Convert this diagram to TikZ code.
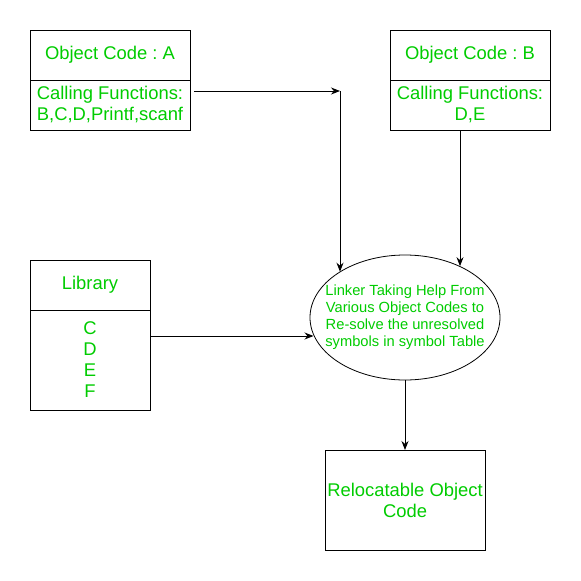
\documentclass[tikz,border=0pt]{standalone}
\usepackage{fontspec}
\setmainfont{Liberation Sans}
\usetikzlibrary{arrows.meta, positioning, calc, shapes.geometric}
\definecolor{CodeGreen}{RGB}{0, 204, 0}
\frenchspacing

\begin{document}
\begin{tikzpicture}[x=1pt, y=-1pt,
    cell/.style={draw, line width=1pt, minimum width=160pt, minimum height=50pt,
        inner sep=0pt, outer sep=0pt, text=CodeGreen, align=center,
        font=\fontsize{18.4}{21}\selectfont},
    flow/.style={-{Stealth[length=9pt, width=7pt]}, line width=0.9pt}]
    \useasboundingbox (0,0) rectangle (581,581);
    % object code A
    \node[cell] (objA) at (110,55) {Object Code : A};
    \node[cell, below=0pt of objA] (objAfun) {Calling Functions:\\B,C,D,Printf,scanf};
    % object code B
    \node[cell] (objB) at (470,55) {Object Code : B};
    \node[cell, below=0pt of objB] (objBfun) {Calling Functions:\\D,E};
    % library
    \node[cell, minimum width=120pt] (lib) at (90,285) {Library};
    \node[cell, minimum width=120pt, minimum height=100pt, below=0pt of lib] (libfun) {C\\D\\E\\F};
    % linker
    \node[draw, ellipse, line width=0.8pt, minimum width=190pt, minimum height=125pt, inner sep=0pt,
        label={[text=CodeGreen, align=center, font=\fontsize{14.7}{17}\selectfont]center:{Linker Taking Help From\\Various Object Codes to\\Re-solve the unresolved\\symbols in symbol Table}}]
        (linker) at (405,317.5) {};
    % output
    \node[cell, minimum height=100pt] (reloc) at (405,500) {Relocatable Object\\Code};

    \coordinate (joinA) at (340,91);
    \coordinate (dropB) at ($(objBfun.south)+(-10,0)$);
    \coordinate (libout) at ($(libfun.east)+(0,-24)$);
    \draw[flow] ($(objAfun.east |- joinA)+(4,0)$) -- (joinA);
    \draw[flow] (joinA) -- (joinA |- linker.145);
    \draw[flow] (dropB) -- (dropB |- linker.43);
    \draw[flow] (libout) -- (libout -| linker.191);
    \draw[flow] (linker.south) -- (reloc.north);
\end{tikzpicture}
\end{document}
